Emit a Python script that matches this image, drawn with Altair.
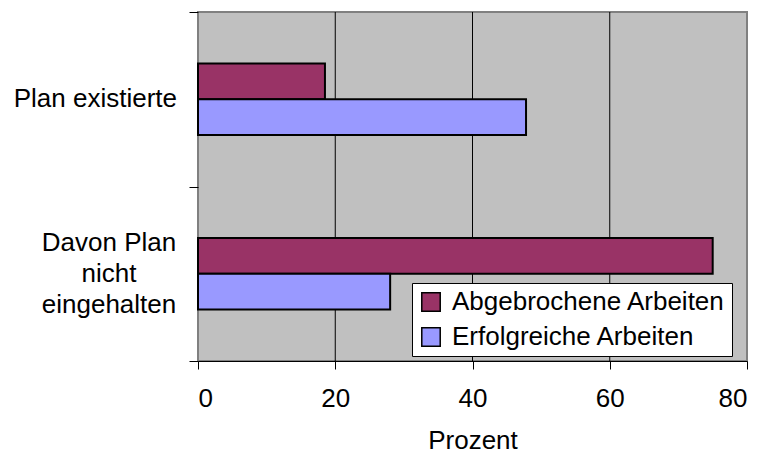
import altair as alt
import pandas as pd

categories = ["Plan existierte", "Davon Plan\nnicht\neingehalten"]
series = ["Abgebrochene Arbeiten", "Erfolgreiche Arbeiten"]
abgebrochen = [18.5, 75.0]
erfolgreich = [47.8, 28.0]
x_ticks = [0, 20, 40, 60, 80]
grid_values = [20, 40, 60]
colors = ["#993366", "#9999FF"]

rows = []
for c, a, e in zip(categories, abgebrochen, erfolgreich):
    rows.append({"Kategorie": c, "Serie": series[0], "Prozent": a})
    rows.append({"Kategorie": c, "Serie": series[1], "Prozent": e})
df = pd.DataFrame(rows)
grid_df = pd.DataFrame({"g": grid_values})
label_df = pd.DataFrame({"Kategorie": categories})

FONT = "Liberation Sans"
W, H = 549, 349
band = H / len(categories)
group_frac = 0.41  # share of each category band filled by its two bars
LINE_H = 31

x_scale = alt.Scale(domain=[0, 80], nice=False)
y_enc = alt.Y(
    "Kategorie:N",
    sort=categories,
    scale=alt.Scale(paddingInner=0, paddingOuter=0),
    axis=alt.Axis(
        title=None,
        domain=False,
        labels=False,
        tickBand="extent",
        tickSize=9,
        tickColor="black",
    ),
)

grid = (
    alt.Chart(grid_df)
    .mark_rule(color="black", strokeWidth=1)
    .encode(x=alt.X("g:Q", scale=x_scale))
)

bars = (
    alt.Chart(df)
    .mark_bar(stroke="black", strokeWidth=2)
    .encode(
        y=y_enc,
        yOffset=alt.YOffset(
            "Serie:N",
            sort=series,
            scale=alt.Scale(
                range=[band * (1 - group_frac) / 2, band * (1 + group_frac) / 2],
                paddingInner=0,
                paddingOuter=0,
            ),
        ),
        x=alt.X(
            "Prozent:Q",
            scale=x_scale,
            axis=alt.Axis(
                values=x_ticks,
                title="Prozent",
                titleFontSize=26,
                titleFontWeight="normal",
                titleFont=FONT,
                titleColor="black",
                titlePadding=16,
                labelFontSize=26,
                labelFont=FONT,
                labelColor="black",
                labelPadding=16,
                tickSize=8,
                tickColor="black",
                domainColor="black",
                grid=False,
            ),
        ),
        color=alt.Color(
            "Serie:N",
            scale=alt.Scale(domain=series, range=colors),
            legend=alt.Legend(
                title=None,
                orient="none",
                legendX=214,
                legendY=271,
                fillColor="white",
                strokeColor="black",
                padding=6,
                symbolType="square",
                symbolSize=340,
                symbolStrokeColor="black",
                symbolStrokeWidth=1.5,
                labelFontSize=26,
                labelFont=FONT,
                labelColor="black",
                labelOffset=8,
                rowPadding=9,
                labelLimit=500,
            ),
        ),
    )
)

# category labels left of the plot: single line right-aligned, multi-line centred
lab_single = (
    alt.Chart(label_df)
    .transform_filter("indexof(datum.Kategorie, '\\n') < 0")
    .mark_text(align="right", baseline="middle", fontSize=26, font=FONT, color="black")
    .encode(y=y_enc, x=alt.value(-21), text="Kategorie:N")
)
lab_multi = (
    alt.Chart(label_df)
    .transform_filter("indexof(datum.Kategorie, '\\n') >= 0")
    .transform_calculate(lines="split(datum.Kategorie, '\\n')")
    .mark_text(
        align="center", baseline="middle", fontSize=26, font=FONT, color="black",
        lineHeight=LINE_H, dy=-LINE_H,
    )
    .encode(y=y_enc, x=alt.value(-89), text="lines:N")
)

chart = (
    alt.layer(grid, bars, lab_single, lab_multi)
    .properties(
        width=W,
        height=H,
        padding={"left": 190, "top": 4, "right": 8, "bottom": 93},
        autosize=alt.AutoSizeParams(type="none"),
        background="white",
    )
    .configure_view(fill="#C0C0C0", stroke="#808080", strokeWidth=2)
)

chart.save("out.html", embed_options={"renderer": "svg", "actions": False})
